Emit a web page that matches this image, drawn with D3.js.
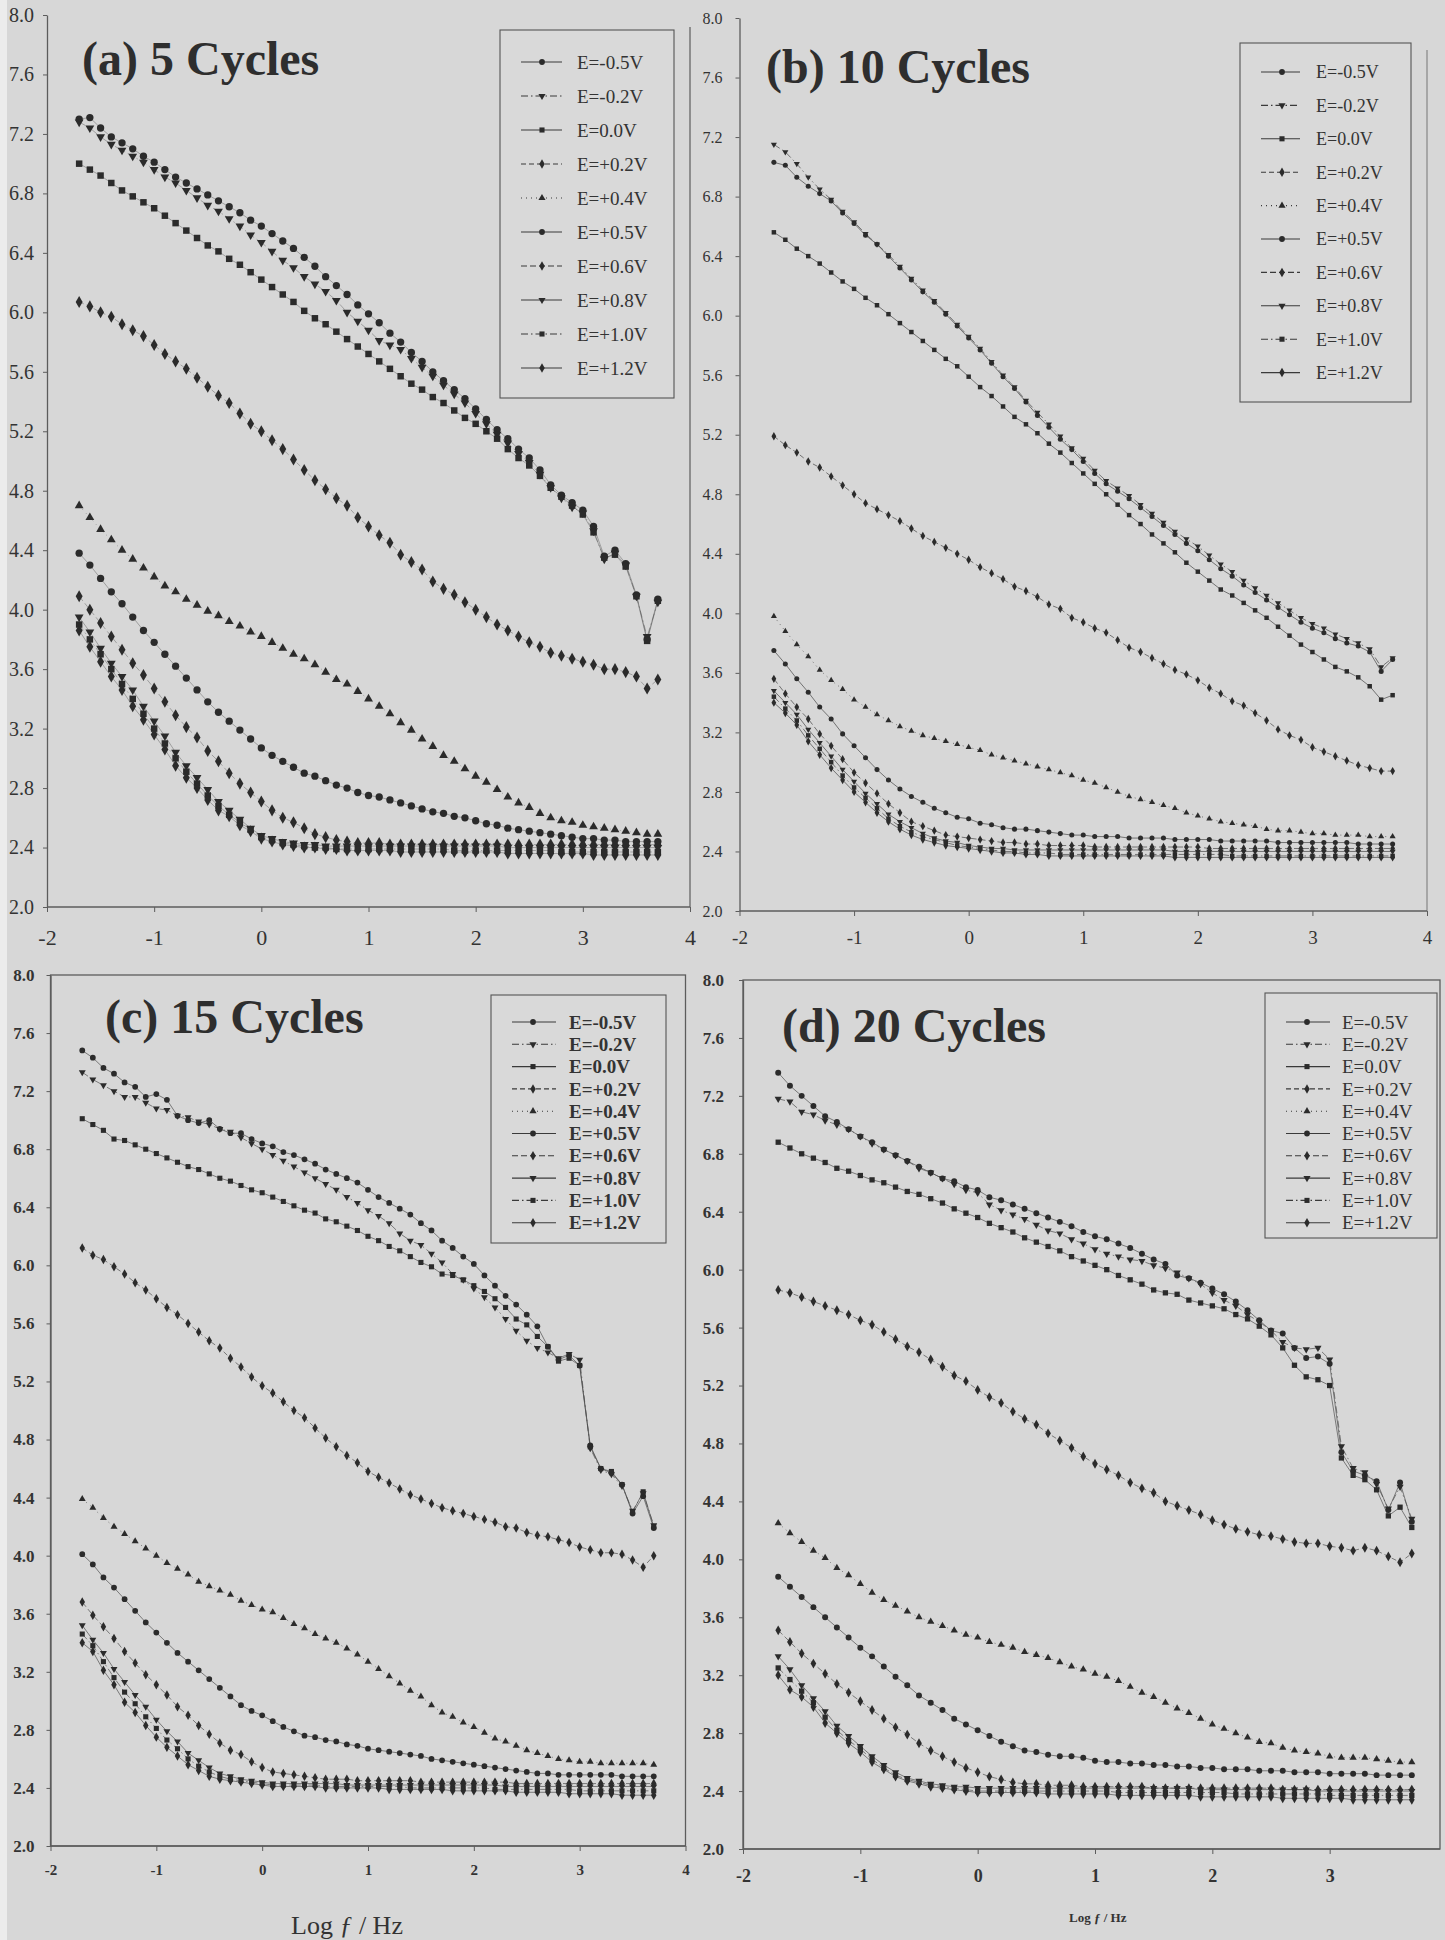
<!DOCTYPE html>
<html>
<head>
<meta charset="utf-8">
<script src="https://cdn.jsdelivr.net/npm/d3@7"></script>
<style>
  html, body { margin: 0; padding: 0; background: #d7d7d7; }
  svg { display: block; }
</style>
</head>
<body>
<svg id="fig" width="1445" height="1940"></svg>
<script>
// ---- data -----------------------------------------------------------
// log10 of the measuring frequency (Hz), shared by every spectrum
const logF = [-1.7,-1.6,-1.5,-1.4,-1.3,-1.2,-1.1,-1.0,-0.9,-0.8,-0.7,-0.6,-0.5,-0.4,-0.3,-0.2,-0.1,
  0.0,0.1,0.2,0.3,0.4,0.5,0.6,0.7,0.8,0.9,1.0,1.1,1.2,1.3,1.4,1.5,1.6,1.7,1.8,1.9,
  2.0,2.1,2.2,2.3,2.4,2.5,2.6,2.7,2.8,2.9,3.0,3.1,3.2,3.3,3.4,3.5,3.6,3.7];

const potentials = ["E=-0.5V","E=-0.2V","E=0.0V","E=+0.2V","E=+0.4V","E=+0.5V","E=+0.6V","E=+0.8V","E=+1.0V","E=+1.2V"];
const xTicks = [-2,-1,0,1,2,3,4];
const yTicks = [2.0,2.4,2.8,3.2,3.6,4.0,4.4,4.8,5.2,5.6,6.0,6.4,6.8,7.2,7.6,8.0];

// (a) film grown with 5 cycles
const c5m05 = [7.30,7.31,7.24,7.18,7.14,7.10,7.05,7.01,6.96,6.91,6.87,6.83,6.79,6.75,6.71,6.67,6.62,6.58,6.53,6.48,6.43,6.37,6.31,6.24,6.18,6.12,6.05,5.99,5.93,5.86,5.80,5.73,5.67,5.60,5.54,5.48,5.42,5.35,5.28,5.21,5.15,5.08,5.02,4.94,4.84,4.77,4.72,4.67,4.56,4.36,4.40,4.31,4.10,3.80,4.07];
const c5m02 = [7.28,7.24,7.18,7.13,7.09,7.05,7.01,6.96,6.91,6.87,6.82,6.77,6.72,6.68,6.63,6.58,6.52,6.47,6.41,6.35,6.30,6.24,6.19,6.14,6.08,6.00,5.94,5.88,5.81,5.78,5.75,5.69,5.63,5.57,5.51,5.45,5.39,5.32,5.25,5.18,5.12,5.05,4.99,4.91,4.82,4.75,4.69,4.65,4.53,4.34,4.38,4.30,4.09,3.82,4.05];
const c5z00 = [7.00,6.96,6.92,6.87,6.82,6.78,6.74,6.70,6.65,6.60,6.55,6.50,6.45,6.41,6.36,6.32,6.27,6.22,6.17,6.12,6.07,6.01,5.96,5.92,5.87,5.82,5.77,5.72,5.67,5.62,5.57,5.52,5.48,5.43,5.39,5.34,5.29,5.25,5.20,5.15,5.08,5.02,4.97,4.90,4.82,4.76,4.70,4.64,4.52,4.35,4.37,4.29,4.09,3.79,4.06];
const c5p02 = [6.07,6.04,6.00,5.97,5.92,5.88,5.84,5.78,5.72,5.67,5.62,5.56,5.50,5.44,5.39,5.32,5.25,5.20,5.14,5.08,5.01,4.94,4.87,4.81,4.75,4.70,4.62,4.56,4.50,4.45,4.37,4.32,4.27,4.19,4.14,4.10,4.05,4.00,3.95,3.90,3.86,3.82,3.78,3.75,3.71,3.69,3.67,3.65,3.63,3.60,3.60,3.58,3.55,3.47,3.53];
const c5p04 = [4.70,4.62,4.54,4.47,4.40,4.34,4.28,4.22,4.16,4.12,4.07,4.03,3.99,3.96,3.92,3.89,3.85,3.82,3.78,3.74,3.70,3.67,3.63,3.58,3.53,3.50,3.45,3.40,3.35,3.30,3.24,3.19,3.13,3.08,3.02,2.98,2.93,2.88,2.84,2.79,2.74,2.70,2.67,2.63,2.60,2.58,2.57,2.55,2.54,2.53,2.52,2.51,2.50,2.49,2.49];
const c5p05 = [4.38,4.30,4.21,4.12,4.04,3.95,3.86,3.78,3.70,3.62,3.54,3.46,3.38,3.31,3.25,3.19,3.13,3.07,3.02,2.98,2.94,2.90,2.88,2.85,2.82,2.80,2.77,2.75,2.74,2.72,2.70,2.68,2.66,2.64,2.63,2.61,2.60,2.58,2.56,2.55,2.53,2.52,2.51,2.50,2.49,2.48,2.47,2.46,2.46,2.45,2.45,2.44,2.44,2.44,2.44];
const c5p06 = [4.09,4.00,3.91,3.82,3.73,3.64,3.56,3.47,3.38,3.29,3.21,3.14,3.05,2.98,2.90,2.83,2.77,2.71,2.65,2.60,2.57,2.53,2.49,2.47,2.45,2.44,2.43,2.43,2.43,2.42,2.42,2.42,2.42,2.42,2.42,2.42,2.42,2.42,2.42,2.42,2.42,2.42,2.42,2.42,2.42,2.42,2.42,2.42,2.42,2.42,2.42,2.42,2.42,2.42,2.42];
const c5p08 = [3.95,3.85,3.74,3.64,3.55,3.46,3.35,3.25,3.15,3.04,2.95,2.87,2.79,2.71,2.65,2.59,2.53,2.48,2.46,2.44,2.43,2.42,2.42,2.41,2.41,2.41,2.41,2.41,2.41,2.41,2.41,2.41,2.41,2.41,2.41,2.41,2.41,2.41,2.41,2.41,2.40,2.40,2.40,2.40,2.40,2.40,2.40,2.40,2.40,2.40,2.40,2.40,2.40,2.40,2.40];
const c5p10 = [3.90,3.80,3.70,3.60,3.50,3.40,3.30,3.20,3.10,3.00,2.91,2.83,2.75,2.68,2.62,2.57,2.52,2.47,2.45,2.43,2.42,2.41,2.40,2.40,2.39,2.39,2.39,2.39,2.39,2.39,2.39,2.39,2.39,2.39,2.39,2.38,2.38,2.38,2.38,2.38,2.38,2.38,2.38,2.38,2.38,2.37,2.37,2.37,2.37,2.37,2.37,2.37,2.37,2.37,2.37];
const c5p12 = [3.86,3.75,3.65,3.55,3.46,3.35,3.26,3.16,3.06,2.95,2.87,2.80,2.72,2.65,2.61,2.55,2.51,2.46,2.44,2.42,2.41,2.40,2.40,2.39,2.39,2.38,2.38,2.38,2.38,2.38,2.37,2.37,2.37,2.37,2.37,2.37,2.37,2.37,2.37,2.37,2.36,2.36,2.36,2.36,2.36,2.36,2.36,2.36,2.35,2.35,2.35,2.35,2.35,2.35,2.35];

// (b) 10 cycles
const c10m05 = [7.03,7.01,6.93,6.87,6.82,6.77,6.69,6.62,6.54,6.48,6.40,6.32,6.24,6.16,6.09,6.01,5.93,5.85,5.77,5.68,5.59,5.51,5.42,5.33,5.25,5.17,5.10,5.02,4.94,4.87,4.82,4.77,4.71,4.65,4.59,4.53,4.47,4.42,4.36,4.30,4.25,4.19,4.14,4.09,4.04,3.99,3.94,3.90,3.87,3.83,3.80,3.78,3.74,3.61,3.69];
const c10m02 = [7.15,7.10,7.02,6.93,6.85,6.78,6.70,6.63,6.55,6.48,6.41,6.33,6.25,6.17,6.10,6.02,5.94,5.86,5.78,5.69,5.60,5.52,5.43,5.35,5.27,5.19,5.11,5.04,4.96,4.89,4.84,4.79,4.73,4.67,4.61,4.55,4.50,4.45,4.39,4.33,4.28,4.22,4.17,4.12,4.07,4.02,3.97,3.93,3.90,3.86,3.83,3.80,3.76,3.64,3.70];
const c10z00 = [6.56,6.51,6.45,6.40,6.35,6.29,6.23,6.18,6.12,6.07,6.01,5.95,5.89,5.83,5.77,5.71,5.66,5.59,5.52,5.46,5.39,5.32,5.27,5.21,5.14,5.08,5.01,4.94,4.87,4.80,4.73,4.66,4.60,4.53,4.47,4.41,4.34,4.28,4.22,4.16,4.12,4.07,4.02,3.97,3.91,3.85,3.79,3.74,3.69,3.64,3.61,3.57,3.51,3.42,3.45];
const c10p02 = [5.19,5.13,5.08,5.02,4.98,4.92,4.86,4.80,4.74,4.70,4.66,4.62,4.57,4.52,4.48,4.44,4.40,4.36,4.31,4.27,4.23,4.18,4.15,4.11,4.06,4.03,3.97,3.94,3.90,3.87,3.82,3.77,3.74,3.70,3.66,3.62,3.59,3.55,3.50,3.46,3.41,3.38,3.33,3.28,3.22,3.18,3.15,3.10,3.07,3.04,3.01,2.98,2.96,2.94,2.94];
const c10p04 = [3.98,3.88,3.79,3.71,3.62,3.55,3.49,3.42,3.37,3.32,3.28,3.24,3.21,3.18,3.16,3.14,3.12,3.10,3.08,3.05,3.03,3.01,2.99,2.97,2.95,2.93,2.91,2.88,2.86,2.83,2.80,2.77,2.75,2.73,2.71,2.69,2.66,2.64,2.62,2.60,2.59,2.58,2.57,2.55,2.54,2.54,2.53,2.52,2.52,2.51,2.51,2.51,2.50,2.50,2.50];
const c10p05 = [3.75,3.66,3.56,3.47,3.37,3.29,3.19,3.11,3.03,2.95,2.88,2.82,2.77,2.73,2.69,2.66,2.63,2.62,2.59,2.58,2.56,2.55,2.55,2.54,2.53,2.52,2.51,2.51,2.50,2.50,2.50,2.49,2.49,2.49,2.49,2.48,2.48,2.48,2.48,2.47,2.47,2.47,2.47,2.47,2.46,2.46,2.46,2.46,2.46,2.46,2.46,2.45,2.45,2.45,2.45];
const c10p06 = [3.56,3.46,3.37,3.29,3.19,3.11,3.02,2.93,2.86,2.79,2.72,2.66,2.60,2.57,2.54,2.51,2.50,2.49,2.48,2.47,2.46,2.46,2.45,2.45,2.44,2.44,2.44,2.44,2.43,2.43,2.43,2.43,2.43,2.43,2.43,2.43,2.43,2.43,2.42,2.42,2.42,2.42,2.42,2.42,2.42,2.42,2.42,2.42,2.42,2.42,2.42,2.42,2.42,2.42,2.42];
const c10p08 = [3.48,3.40,3.32,3.22,3.13,3.04,2.95,2.87,2.79,2.72,2.65,2.60,2.56,2.52,2.49,2.47,2.46,2.44,2.43,2.42,2.42,2.41,2.41,2.41,2.41,2.41,2.41,2.41,2.41,2.41,2.41,2.41,2.41,2.41,2.41,2.40,2.40,2.40,2.40,2.40,2.40,2.40,2.40,2.40,2.40,2.40,2.40,2.40,2.40,2.40,2.40,2.40,2.40,2.40,2.40];
const c10p10 = [3.44,3.36,3.28,3.18,3.09,3.00,2.91,2.83,2.76,2.69,2.62,2.57,2.53,2.50,2.48,2.46,2.44,2.43,2.42,2.41,2.40,2.40,2.39,2.39,2.39,2.38,2.38,2.38,2.38,2.38,2.38,2.38,2.38,2.38,2.38,2.38,2.38,2.38,2.38,2.38,2.37,2.37,2.37,2.37,2.37,2.37,2.37,2.37,2.37,2.37,2.37,2.37,2.37,2.37,2.37];
const c10p12 = [3.40,3.33,3.25,3.14,3.05,2.96,2.88,2.80,2.73,2.66,2.60,2.55,2.51,2.48,2.46,2.44,2.43,2.42,2.41,2.40,2.39,2.39,2.38,2.38,2.37,2.37,2.37,2.37,2.37,2.37,2.37,2.37,2.37,2.37,2.37,2.36,2.36,2.36,2.36,2.36,2.36,2.36,2.36,2.36,2.36,2.36,2.36,2.36,2.36,2.36,2.36,2.36,2.36,2.36,2.36];

// (c) 15 cycles
const c15m05 = [7.48,7.43,7.36,7.32,7.26,7.23,7.16,7.18,7.14,7.03,7.00,6.98,7.00,6.94,6.91,6.91,6.87,6.84,6.82,6.78,6.76,6.73,6.70,6.66,6.63,6.60,6.57,6.52,6.47,6.43,6.39,6.35,6.29,6.24,6.17,6.12,6.06,6.01,5.93,5.86,5.79,5.73,5.66,5.58,5.44,5.35,5.38,5.31,4.76,4.60,4.57,4.49,4.29,4.41,4.19];
const c15m02 = [7.33,7.28,7.24,7.20,7.16,7.16,7.12,7.08,7.07,7.03,7.02,6.99,6.97,6.94,6.92,6.88,6.84,6.80,6.76,6.72,6.68,6.64,6.60,6.56,6.52,6.47,6.43,6.38,6.34,6.29,6.22,6.17,6.14,6.08,6.02,5.94,5.90,5.84,5.78,5.71,5.63,5.55,5.48,5.43,5.40,5.36,5.39,5.35,4.74,4.59,4.56,4.48,4.31,4.43,4.21];
const c15z00 = [7.01,6.97,6.93,6.87,6.86,6.83,6.80,6.77,6.74,6.71,6.68,6.66,6.63,6.60,6.58,6.55,6.52,6.50,6.47,6.44,6.41,6.38,6.36,6.32,6.30,6.27,6.24,6.20,6.17,6.13,6.10,6.06,6.02,5.99,5.94,5.93,5.90,5.86,5.82,5.77,5.71,5.63,5.59,5.51,5.44,5.34,5.36,5.31,4.75,4.60,4.58,4.49,4.30,4.44,4.20];
const c15p02 = [6.12,6.07,6.04,5.99,5.94,5.88,5.83,5.77,5.71,5.66,5.60,5.54,5.48,5.43,5.36,5.30,5.23,5.17,5.12,5.06,5.00,4.95,4.88,4.81,4.75,4.69,4.64,4.58,4.54,4.50,4.46,4.42,4.39,4.36,4.33,4.31,4.29,4.27,4.25,4.23,4.20,4.19,4.16,4.14,4.13,4.11,4.09,4.06,4.04,4.02,4.02,4.01,3.97,3.92,4.00];
const c15p04 = [4.39,4.33,4.26,4.20,4.15,4.10,4.05,4.00,3.95,3.91,3.87,3.82,3.79,3.76,3.73,3.69,3.66,3.63,3.61,3.57,3.53,3.50,3.46,3.43,3.40,3.36,3.32,3.27,3.22,3.17,3.12,3.07,3.03,2.97,2.92,2.89,2.85,2.82,2.78,2.74,2.72,2.69,2.66,2.64,2.62,2.60,2.59,2.58,2.58,2.57,2.57,2.57,2.57,2.57,2.56];
const c15p05 = [4.01,3.94,3.85,3.78,3.70,3.62,3.54,3.47,3.40,3.33,3.27,3.21,3.15,3.09,3.03,2.97,2.93,2.90,2.86,2.82,2.79,2.76,2.75,2.73,2.72,2.70,2.69,2.67,2.66,2.65,2.64,2.63,2.62,2.60,2.59,2.58,2.57,2.56,2.55,2.54,2.53,2.52,2.51,2.50,2.50,2.49,2.49,2.49,2.49,2.49,2.49,2.48,2.48,2.48,2.48];
const c15p06 = [3.68,3.59,3.51,3.43,3.34,3.26,3.18,3.11,3.04,2.96,2.90,2.83,2.77,2.71,2.66,2.63,2.58,2.54,2.51,2.50,2.49,2.48,2.47,2.46,2.46,2.46,2.45,2.45,2.45,2.45,2.45,2.45,2.44,2.44,2.44,2.44,2.44,2.44,2.44,2.44,2.44,2.43,2.43,2.43,2.43,2.43,2.43,2.43,2.43,2.43,2.43,2.43,2.43,2.43,2.43];
const c15p08 = [3.52,3.42,3.33,3.22,3.13,3.04,2.96,2.87,2.79,2.72,2.64,2.59,2.54,2.50,2.48,2.46,2.45,2.44,2.43,2.43,2.43,2.43,2.43,2.43,2.43,2.42,2.42,2.42,2.42,2.42,2.42,2.42,2.42,2.42,2.42,2.42,2.42,2.42,2.42,2.42,2.41,2.41,2.41,2.41,2.41,2.41,2.41,2.41,2.41,2.41,2.41,2.41,2.41,2.41,2.41];
const c15p10 = [3.46,3.38,3.27,3.16,3.06,2.98,2.89,2.81,2.73,2.67,2.60,2.55,2.51,2.48,2.46,2.45,2.44,2.43,2.42,2.42,2.42,2.42,2.42,2.41,2.41,2.41,2.41,2.41,2.41,2.41,2.41,2.40,2.40,2.40,2.40,2.40,2.40,2.40,2.40,2.39,2.39,2.39,2.39,2.39,2.39,2.39,2.39,2.38,2.38,2.38,2.38,2.38,2.38,2.38,2.38];
const c15p12 = [3.40,3.34,3.21,3.11,2.99,2.92,2.83,2.75,2.68,2.62,2.56,2.52,2.48,2.46,2.45,2.44,2.43,2.42,2.41,2.41,2.41,2.41,2.41,2.40,2.40,2.40,2.40,2.40,2.40,2.39,2.39,2.39,2.39,2.39,2.39,2.38,2.38,2.38,2.38,2.38,2.38,2.37,2.37,2.37,2.37,2.37,2.36,2.36,2.36,2.36,2.36,2.35,2.35,2.35,2.35];

// (d) 20 cycles
const c20m05 = [7.36,7.27,7.20,7.13,7.06,7.02,6.97,6.92,6.88,6.83,6.79,6.75,6.71,6.67,6.63,6.61,6.57,6.55,6.50,6.48,6.45,6.42,6.39,6.36,6.33,6.30,6.26,6.23,6.21,6.18,6.15,6.11,6.07,6.04,5.96,5.94,5.91,5.87,5.83,5.78,5.72,5.65,5.58,5.56,5.46,5.39,5.40,5.35,4.74,4.61,4.58,4.54,4.34,4.53,4.26];
const c20m02 = [7.18,7.16,7.09,7.07,7.03,7.00,6.97,6.92,6.87,6.83,6.79,6.75,6.70,6.67,6.63,6.59,6.55,6.53,6.45,6.41,6.38,6.35,6.31,6.27,6.25,6.21,6.18,6.14,6.11,6.09,6.07,6.06,6.03,6.01,5.98,5.94,5.90,5.84,5.79,5.75,5.69,5.64,5.58,5.50,5.46,5.45,5.46,5.38,4.78,4.63,4.60,4.52,4.35,4.50,4.28];
const c20z00 = [6.88,6.84,6.80,6.77,6.74,6.70,6.68,6.65,6.62,6.60,6.57,6.54,6.52,6.49,6.46,6.42,6.39,6.36,6.32,6.29,6.26,6.22,6.19,6.16,6.13,6.09,6.06,6.03,6.00,5.96,5.93,5.90,5.86,5.84,5.83,5.79,5.77,5.75,5.73,5.69,5.66,5.61,5.55,5.46,5.34,5.26,5.24,5.20,4.70,4.58,4.55,4.48,4.30,4.36,4.22];
const c20p02 = [5.86,5.84,5.81,5.78,5.75,5.72,5.69,5.65,5.62,5.57,5.52,5.47,5.43,5.38,5.33,5.27,5.23,5.17,5.12,5.08,5.02,4.97,4.93,4.87,4.82,4.77,4.71,4.66,4.62,4.58,4.53,4.49,4.46,4.40,4.37,4.34,4.31,4.27,4.24,4.21,4.19,4.17,4.16,4.14,4.12,4.11,4.11,4.09,4.08,4.06,4.08,4.06,4.02,3.98,4.04];
const c20p04 = [4.25,4.18,4.12,4.06,4.01,3.94,3.89,3.83,3.77,3.72,3.68,3.64,3.60,3.57,3.54,3.51,3.48,3.46,3.43,3.41,3.39,3.36,3.34,3.32,3.29,3.26,3.24,3.21,3.19,3.16,3.12,3.08,3.05,3.01,2.97,2.94,2.90,2.86,2.83,2.80,2.77,2.74,2.73,2.70,2.68,2.67,2.66,2.64,2.63,2.63,2.63,2.62,2.61,2.60,2.60];
const c20p05 = [3.88,3.81,3.74,3.67,3.60,3.53,3.46,3.39,3.33,3.26,3.19,3.13,3.06,3.01,2.96,2.90,2.86,2.82,2.78,2.74,2.71,2.68,2.67,2.65,2.64,2.64,2.63,2.61,2.60,2.60,2.59,2.59,2.58,2.58,2.57,2.57,2.56,2.56,2.55,2.55,2.55,2.54,2.54,2.54,2.53,2.53,2.53,2.52,2.52,2.52,2.52,2.51,2.51,2.51,2.51];
const c20p06 = [3.51,3.43,3.35,3.28,3.21,3.14,3.08,3.02,2.96,2.90,2.84,2.79,2.73,2.68,2.64,2.60,2.56,2.53,2.50,2.48,2.46,2.45,2.45,2.44,2.44,2.44,2.43,2.43,2.43,2.43,2.43,2.43,2.42,2.42,2.42,2.42,2.42,2.42,2.42,2.42,2.42,2.42,2.42,2.41,2.41,2.41,2.41,2.41,2.41,2.41,2.41,2.41,2.41,2.41,2.41];
const c20p08 = [3.33,3.24,3.13,3.04,2.95,2.85,2.78,2.71,2.64,2.58,2.53,2.49,2.47,2.45,2.44,2.43,2.43,2.42,2.42,2.42,2.42,2.42,2.42,2.42,2.42,2.42,2.42,2.42,2.42,2.42,2.42,2.42,2.42,2.42,2.42,2.42,2.41,2.41,2.41,2.41,2.41,2.41,2.41,2.41,2.41,2.41,2.40,2.40,2.40,2.40,2.40,2.40,2.40,2.40,2.40];
const c20p10 = [3.25,3.17,3.09,3.01,2.91,2.82,2.75,2.69,2.62,2.56,2.51,2.48,2.46,2.44,2.43,2.42,2.41,2.40,2.40,2.40,2.40,2.40,2.40,2.40,2.40,2.40,2.40,2.40,2.40,2.39,2.39,2.39,2.39,2.39,2.39,2.39,2.39,2.39,2.39,2.38,2.38,2.38,2.38,2.38,2.38,2.38,2.38,2.37,2.37,2.37,2.37,2.37,2.37,2.37,2.37];
const c20p12 = [3.20,3.10,3.05,2.98,2.87,2.80,2.73,2.67,2.60,2.55,2.50,2.47,2.45,2.43,2.42,2.41,2.40,2.39,2.39,2.39,2.39,2.39,2.39,2.38,2.38,2.38,2.38,2.38,2.38,2.37,2.37,2.37,2.37,2.37,2.37,2.37,2.36,2.36,2.36,2.36,2.36,2.36,2.36,2.35,2.35,2.35,2.35,2.35,2.35,2.34,2.34,2.34,2.34,2.34,2.34];

const cycles5  = [c5m05, c5m02, c5z00, c5p02, c5p04, c5p05, c5p06, c5p08, c5p10, c5p12];
const cycles10 = [c10m05, c10m02, c10z00, c10p02, c10p04, c10p05, c10p06, c10p08, c10p10, c10p12];
const cycles15 = [c15m05, c15m02, c15z00, c15p02, c15p04, c15p05, c15p06, c15p08, c15p10, c15p12];
const cycles20 = [c20m05, c20m02, c20z00, c20p02, c20p04, c20p05, c20p06, c20p08, c20p10, c20p12];

// ---- styling ----------------------------------------------------------
const INK = "#2b2b2b";
const TEXT = "#333";
const AXIS = "#5c5c5c";
const SERIF = "'Liberation Serif', 'Times New Roman', serif";

// marker shape and connecting-line dash for each potential
const seriesStyle = [
  { sym: "circle",  dash: null },
  { sym: "down",    dash: "7,3,1.5,3" },
  { sym: "square",  dash: null },
  { sym: "diamond", dash: "5,3" },
  { sym: "up",      dash: "1,4" },
  { sym: "circle",  dash: null },
  { sym: "diamond", dash: "6,3" },
  { sym: "down",    dash: null },
  { sym: "square",  dash: "7,3,1.5,3" },
  { sym: "diamond", dash: null }
];
const symbolTypes = {
  circle: d3.symbolCircle, square: d3.symbolSquare, diamond: d3.symbolDiamond,
  up: d3.symbolTriangle, down: d3.symbolTriangle
};
function markerPath(kind, size) {
  return d3.symbol().type(symbolTypes[kind]).size(size)();
}
function placeMarker(sel, kind, cx, cy) {
  sel.attr("transform", `translate(${cx},${cy})` + (kind === "down" ? " rotate(180)" : ""));
}

// ---- panel layout -------------------------------------------------------
// axisEnd: where the bottom axis line stops (defaults to the x=4 position)
const panels = [
  {
    title: "(a) 5 Cycles", titleAt: [82, 75], series: cycles5,
    xRange: [47, 690], yRange: [907, 15], xTickVals: xTicks,
    mark: 42, lineOpacity: 0.45,
    xFont: 22, yFont: 20, tickWeight: "normal", xPad: 17, yPad: 9,
    frame: { rightLine: [27, 907], color: AXIS },
    legend: { box: [500, 30, 174, 368], y0: 62, dy: 34, lx: [521, 562], mx: 542, tx: 577, font: 19, weight: "normal" }
  },
  {
    title: "(b) 10 Cycles", titleAt: [766, 83], series: cycles10,
    xRange: [739.5, 1427], yRange: [911, 18], xTickVals: xTicks,
    mark: 20, lineOpacity: 0.8,
    xFont: 19, yFont: 16, tickWeight: "normal", xPad: 15, yPad: 13,
    frame: { rightLine: [50, 911], color: "#858585" },
    legend: { box: [1240, 43, 171, 359], y0: 72, dy: 33.4, lx: [1261, 1300], mx: 1282, tx: 1316, font: 18, weight: "normal" }
  },
  {
    title: "(c) 15 Cycles", titleAt: [105, 1033], series: cycles15,
    xRange: [50.5, 685.5], yRange: [1846, 975], xTickVals: xTicks,
    mark: 26, lineOpacity: 0.75,
    xFont: 15, yFont: 17, tickWeight: "bold", xPad: 13, yPad: 12,
    frame: { box: true },
    legend: { box: [491, 995, 175, 248], y0: 1022, dy: 22.3, lx: [512, 556], mx: 533, tx: 569, font: 19, weight: "bold" }
  },
  {
    title: "(d) 20 Cycles", titleAt: [782, 1042], series: cycles20,
    xRange: [743, 1447], yRange: [1849, 980], xTickVals: [-2, -1, 0, 1, 2, 3],
    mark: 28, lineOpacity: 0.75,
    xFont: 18, yFont: 17, tickWeight: "bold", xPad: 15, yPad: 15,
    frame: { box: true }, axisEnd: 1440,
    legend: { box: [1265, 993, 172, 245], y0: 1022, dy: 22.3, lx: [1286, 1330], mx: 1307, tx: 1342, font: 19, weight: "normal" }
  }
];

const svg = d3.select("#fig");
svg.append("rect").attr("width", 1445).attr("height", 1940).attr("fill", "#d7d7d7");
// lighter scanner margin on the left edge
svg.append("rect").attr("x", 0).attr("y", 0).attr("width", 7).attr("height", 1940).attr("fill", "#ececec");

const fmtX = d => (d < 0 ? "-" + Math.abs(d) : String(d));
const fmtY = d3.format(".1f");

panels.forEach(p => {
  const x = d3.scaleLinear().domain([-2, 4]).range(p.xRange);
  const y = d3.scaleLinear().domain([2, 8]).range(p.yRange);
  const g = svg.append("g");
  const xLeft = p.xRange[0];
  const xRight = p.axisEnd !== undefined ? p.axisEnd : p.xRange[1];

  // plot frame
  if (p.frame.box) {
    g.append("rect")
      .attr("x", xLeft).attr("y", p.yRange[1])
      .attr("width", xRight - xLeft).attr("height", p.yRange[0] - p.yRange[1])
      .attr("fill", "none").attr("stroke", AXIS).attr("stroke-width", 1.3);
  } else if (p.frame.rightLine) {
    g.append("line")
      .attr("x1", xRight).attr("x2", xRight)
      .attr("y1", p.frame.rightLine[0]).attr("y2", p.frame.rightLine[1])
      .attr("stroke", p.frame.color).attr("stroke-width", 1.2);
  }

  // x axis (baseline drawn explicitly so it spans the frame width)
  const xAxis = d3.axisBottom(x)
    .tickValues(p.xTickVals).tickFormat(fmtX)
    .tickSize(5).tickSizeOuter(0).tickPadding(p.xPad);
  const gx = g.append("g").attr("transform", `translate(0,${p.yRange[0]})`).call(xAxis);
  gx.select(".domain").remove();
  gx.append("line")
    .attr("x1", xLeft).attr("x2", xRight).attr("y1", 0).attr("y2", 0)
    .attr("stroke", AXIS).attr("stroke-width", 1.3);
  gx.selectAll(".tick line").attr("stroke", AXIS);
  gx.selectAll(".tick text")
    .attr("font-family", SERIF).attr("font-size", p.xFont)
    .attr("font-weight", p.tickWeight).attr("fill", TEXT);

  // y axis
  const yAxis = d3.axisLeft(y)
    .tickValues(yTicks).tickFormat(fmtY)
    .tickSize(4).tickSizeOuter(0).tickPadding(p.yPad);
  const gy = g.append("g").attr("transform", `translate(${xLeft},0)`).call(yAxis);
  gy.select(".domain").attr("stroke", AXIS).attr("stroke-width", 1.3);
  gy.selectAll(".tick line").attr("stroke", AXIS);
  gy.selectAll(".tick text")
    .attr("font-family", SERIF).attr("font-size", p.yFont)
    .attr("font-weight", p.tickWeight).attr("fill", TEXT);

  // spectra: thin connecting lines, then markers on top
  const line = d3.line()
    .x((d, i) => x(logF[i]))
    .y(d => y(d));
  p.series.forEach((vals, k) => {
    const st = seriesStyle[k];
    g.append("path")
      .datum(vals)
      .attr("d", line)
      .attr("fill", "none")
      .attr("stroke", "#4a4a4a")
      .attr("stroke-width", 0.9)
      .attr("stroke-opacity", p.lineOpacity)
      .attr("stroke-dasharray", st.dash);
  });
  p.series.forEach((vals, k) => {
    const st = seriesStyle[k];
    const d = markerPath(st.sym, st.sym === "up" || st.sym === "down" ? p.mark * 0.8 : p.mark);
    g.append("g").selectAll("path")
      .data(vals)
      .join("path")
      .attr("d", d)
      .attr("fill", INK)
      .each(function (v, i) { placeMarker(d3.select(this), st.sym, x(logF[i]), y(v)); });
  });

  // panel title
  g.append("text")
    .attr("x", p.titleAt[0]).attr("y", p.titleAt[1])
    .attr("font-family", SERIF).attr("font-size", 48).attr("font-weight", "bold")
    .attr("fill", "#2e2e2e")
    .text(p.title);

  // legend
  const L = p.legend;
  const lg = g.append("g");
  lg.append("rect")
    .attr("x", L.box[0]).attr("y", L.box[1]).attr("width", L.box[2]).attr("height", L.box[3])
    .attr("fill", "#d9d9d9").attr("stroke", "#555").attr("stroke-width", 1.1);
  potentials.forEach((name, k) => {
    const st = seriesStyle[k];
    const ry = L.y0 + k * L.dy;
    lg.append("line")
      .attr("x1", L.lx[0]).attr("x2", L.lx[1]).attr("y1", ry).attr("y2", ry)
      .attr("stroke", "#3a3a3a").attr("stroke-width", 1.1)
      .attr("stroke-dasharray", st.dash);
    const mk = lg.append("path")
      .attr("d", markerPath(st.sym, st.sym === "up" || st.sym === "down" ? 22 : 26))
      .attr("fill", INK);
    placeMarker(mk, st.sym, L.mx, ry);
    lg.append("text")
      .attr("x", L.tx).attr("y", ry).attr("dy", "0.35em")
      .attr("font-family", SERIF).attr("font-size", L.font).attr("font-weight", L.weight)
      .attr("fill", TEXT)
      .text(name);
  });
});

// frequency axis titles under the lower panels
const t1 = svg.append("text")
  .attr("x", 291).attr("y", 1934)
  .attr("font-family", SERIF).attr("font-size", 26).attr("fill", TEXT);
t1.append("tspan").text("Log ");
t1.append("tspan").attr("font-style", "italic").text("ƒ");
t1.append("tspan").text(" / Hz");

const t2 = svg.append("text")
  .attr("x", 1069).attr("y", 1922)
  .attr("font-family", SERIF).attr("font-size", 13).attr("font-weight", "bold").attr("fill", TEXT);
t2.append("tspan").text("Log ");
t2.append("tspan").attr("font-style", "italic").text("ƒ");
t2.append("tspan").text(" / Hz");
</script>
</body>
</html>
